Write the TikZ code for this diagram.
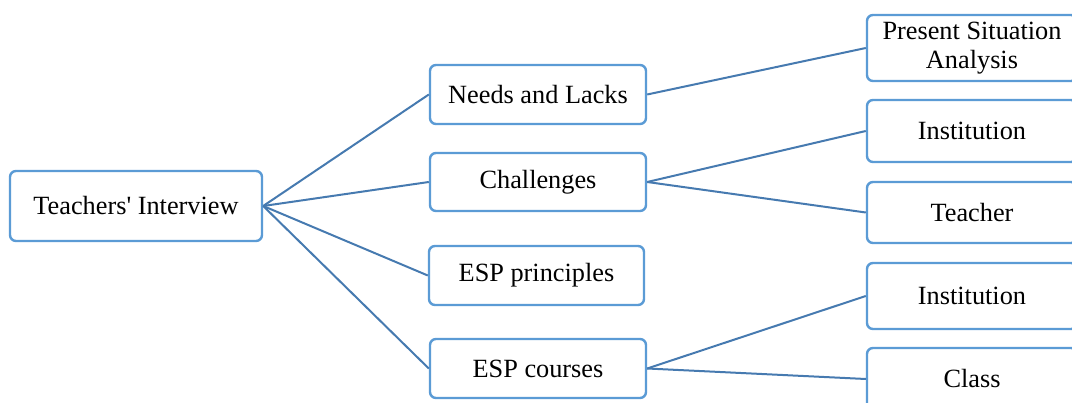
\documentclass[tikz,border=0pt]{standalone}
\usepackage{fontspec}
\setmainfont{Liberation Serif}
\definecolor{boxblue}{RGB}{91,155,213}
\definecolor{linkblue}{RGB}{70,122,176}
\begin{document}
\begin{tikzpicture}[x=1pt,y=-1pt,
    topic/.style={draw=boxblue,line width=2.4pt,rounded corners=6pt,fill=white,
      align=center,inner sep=0pt,font=\fontsize{26.3}{28.5}\selectfont},
    link/.style={draw=linkblue,line width=2pt}]
        \useasboundingbox (0,0) rectangle (1072,403);
        % root
        \node[topic,minimum width=252pt,minimum height=70pt] (interview) at (136,206) {Teachers\textquotesingle{} Interview};
        % middle column
        \node[topic,minimum width=216pt,minimum height=59pt] (needs) at (538,94.5) {Needs and Lacks};
        \node[topic,minimum width=216pt,minimum height=58pt] (challenges) at (538,182) {Challenges};
        \node[topic,minimum width=215pt,minimum height=59pt] (principles) at (536.5,275.5) {ESP principles};
        \node[topic,minimum width=216pt,minimum height=59pt] (courses) at (538,368.5) {ESP courses};
        % right column
        \node[topic,minimum width=210pt,minimum height=66pt] (psa) at (972,48) {Present Situation\\Analysis};
        \node[topic,minimum width=210pt,minimum height=62pt] (instA) at (972,131) {Institution};
        \node[topic,minimum width=210pt,minimum height=61pt] (teacher) at (972,212.5) {Teacher};
        \node[topic,minimum width=210pt,minimum height=66pt] (instB) at (972,296) {Institution};
        \node[topic,minimum width=210pt,minimum height=62pt] (class) at (972,379) {Class};

        \draw[link] (interview.east) -- (needs.west);
        \draw[link] (interview.east) -- (challenges.west);
        \draw[link] (interview.east) -- (principles.west);
        \draw[link] (interview.east) -- (courses.west);
        \draw[link] (needs.east) -- (psa.west);
        \draw[link] (challenges.east) -- (instA.west);
        \draw[link] (challenges.east) -- (teacher.west);
        \draw[link] (courses.east) -- (instB.west);
        \draw[link] (courses.east) -- (class.west);

    \end{tikzpicture}
\end{document}
